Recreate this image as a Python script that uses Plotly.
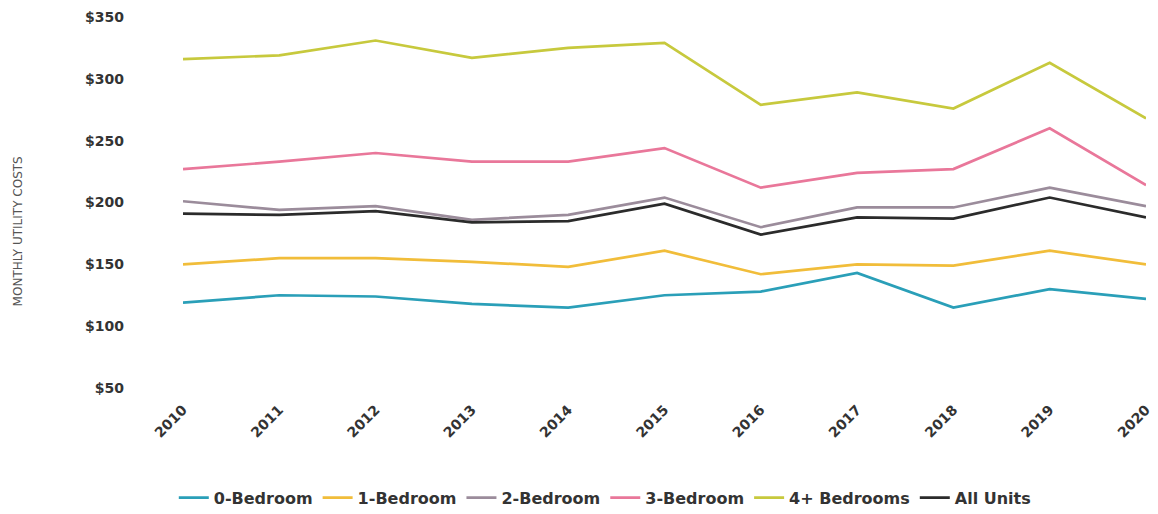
import plotly.graph_objects as go

years = [2010, 2011, 2012, 2013, 2014, 2015, 2016, 2017, 2018, 2019, 2020]

bedroom_0 = [119, 125, 124, 118, 115, 125, 128, 143, 115, 130, 122]
bedroom_1 = [150, 155, 155, 152, 148, 161, 142, 150, 149, 161, 150]
bedroom_2 = [201, 194, 197, 186, 190, 204, 180, 196, 196, 212, 197]
bedroom_3 = [227, 233, 240, 233, 233, 244, 212, 224, 227, 260, 214]
bedroom_4plus = [316, 319, 331, 317, 325, 329, 279, 289, 276, 313, 268]
all_units = [191, 190, 193, 184, 185, 199, 174, 188, 187, 204, 188]

series_names = ["0-Bedroom", "1-Bedroom", "2-Bedroom", "3-Bedroom", "4+ Bedrooms", "All Units"]
series_values = [bedroom_0, bedroom_1, bedroom_2, bedroom_3, bedroom_4plus, all_units]
series_colors = ["#2a9fb8", "#f1bd3a", "#9b8c9b", "#e9779a", "#c7c93d", "#2b2b2b"]

y_ticks = [50, 100, 150, 200, 250, 300, 350]
y_tick_labels = ["$50", "$100", "$150", "$200", "$250", "$300", "$350"]

fig = go.Figure()
for name, vals, color in zip(series_names, series_values, series_colors):
    fig.add_trace(go.Scatter(
        x=years, y=vals, name=name, mode="lines",
        line=dict(color=color, width=2.7),
    ))

fig.update_layout(
    width=1158, height=514,
    margin=dict(l=183, r=12, t=17, b=126, autoexpand=False),
    paper_bgcolor="white", plot_bgcolor="white",
    font=dict(family="DejaVu Sans", color="#333333"),
    showlegend=True,
    legend=dict(
        orientation="h", x=0.438, xanchor="center", y=-0.296, yanchor="middle",
        font=dict(family="DejaVu Sans", size=16, color="#333333", weight="bold"),
        itemwidth=30, traceorder="normal",
    ),
    xaxis=dict(
        range=[2010, 2020], tickmode="array", tickvals=years,
        ticktext=[str(y) for y in years], tickangle=-45,
        showgrid=False, zeroline=False, showline=False, ticks="",
        tickfont=dict(family="DejaVu Sans", size=14, color="#333333", weight="bold"),
        ticklabelstandoff=10, automargin=False,
    ),
    yaxis=dict(
        range=[50, 350], tickmode="array", tickvals=y_ticks, ticktext=y_tick_labels,
        showgrid=False, zeroline=False, showline=False, ticks="",
        tickfont=dict(family="DejaVu Sans", size=14, color="#333333", weight="bold"),
        ticklabelstandoff=58, automargin=False,
    ),
    annotations=[dict(
        text="MONTHLY UTILITY COSTS", textangle=-90, showarrow=False,
        xref="paper", yref="paper", x=-0.171, y=0.423,
        xanchor="center", yanchor="middle",
        font=dict(family="DejaVu Sans", size=12, color="#555555"),
    )],
)

fig.write_html("out.html")
